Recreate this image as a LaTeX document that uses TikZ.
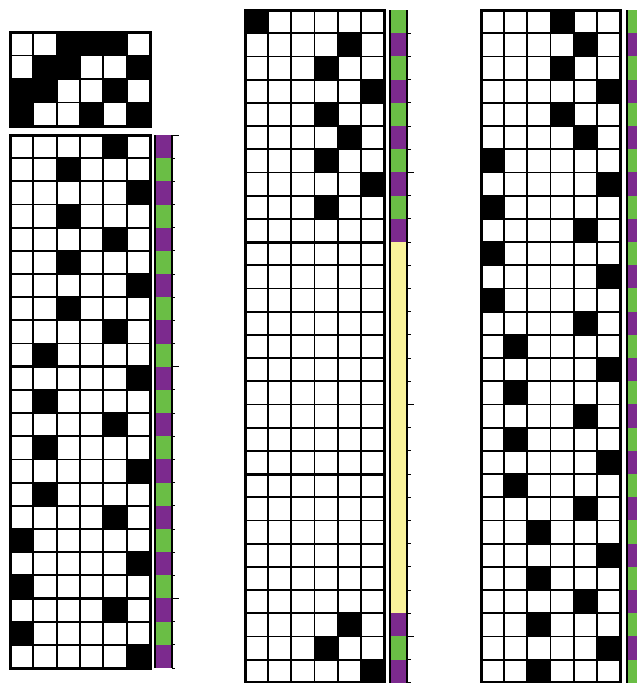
\documentclass[tikz,border=0pt]{standalone}
\definecolor{wpurple}{RGB}{124,42,142}
\definecolor{wgreen}{RGB}{106,190,69}
\definecolor{wyellow}{RGB}{249,242,155}
\tikzset{
  gridl/.style={line width=1.8pt,black},
  thickl/.style={line width=3pt,black},
  framel/.style={line width=3pt,black},
  barl/.style={line width=2pt,black},
  tickl/.style={line width=0.9pt,black}
}
% #1 x0, #2 y0, #3 cell width, #4 row height, #5 number of rows, #6 list of black columns (0 = none)
\newcommand\weavegrid[6]{%
  \foreach \c [count=\r] in {#6} {
    \ifnum\c>0 \fill[black] ({#1+(\c-1)*#3},{#2+(\r-1)*#4}) rectangle ++(#3,#4); \fi
  }
  \foreach \i in {1,...,5} \draw[gridl] ({#1+\i*#3},#2) -- ++(0,{#5*#4});
  \foreach \j in {1,...,\numexpr#5-1\relax} \draw[gridl] (#1,{#2+\j*#4}) -- ++({6*#3},0);
  \draw[framel] (#1,#2) rectangle ++({6*#3},{#5*#4});
}
% #1 x0, #2 y0, #3 width, #4 row height, #5 list of colours
\newcommand\colourbar[5]{%
  \foreach \col [count=\r] in {#5} {
    \fill[\col] (#1,{#2+(\r-1)*#4}) rectangle ++(#3,#4);
  }
}
\begin{document}
\begin{tikzpicture}[x=1pt,y=-1pt]
\useasboundingbox (0,0) rectangle (637,683);
\clip (0,0) rectangle (637,683);
\fill[white] (0,0) rectangle (637,683);

% ---------------- left panel ----------------
% tie-up
\foreach \cc/\rr in {3/1,4/1,5/1, 2/2,3/2,6/2, 1/3,2/3,5/3, 1/4,4/4,6/4}
  \fill[black] ({10+(\cc-1)*140/6},{32+(\rr-1)*23.5}) rectangle ++({140/6},23.5);
\foreach \i in {1,...,5} \draw[gridl] ({10+\i*140/6},32) -- ++(0,94);
\foreach \j in {1,2,3} \draw[gridl] (10,{32+\j*23.5}) -- ++(140,0);
\draw[framel] (10,32) rectangle (150,126);

% treadling
\weavegrid{10}{135}{140/6}{23.174}{23}{5,3,6,3,5,3,6,3,5,2,6,2,5,2,6,2,5,1,6,1,5,1,6}
\draw[thickl] (10,{135+10*23.174}) -- ++(140,0);
\draw[thickl] (10,{135+20*23.174}) -- ++(140,0);

% colour bar
\colourbar{155}{135}{17}{23.174}{wpurple,wgreen,wpurple,wgreen,wpurple,wgreen,wpurple,wgreen,wpurple,wgreen,wpurple,wgreen,wpurple,wgreen,wpurple,wgreen,wpurple,wgreen,wpurple,wgreen,wpurple,wgreen,wpurple}
\draw[barl] (155,135) -- (155,668) (172,135) -- (172,668);
\foreach \j in {0,...,23} {
  \pgfmathsetmacro\tl{(\j==0 || \j==10 || \j==20) ? 7 : 3}
  \draw[tickl] (172,{135+\j*23.174}) -- ++(\tl,0);
}

% ---------------- middle panel ----------------
\weavegrid{245}{10}{139/6}{23.2}{29}{1,5,4,6,4,5,4,6,4,0,0,0,0,0,0,0,0,0,0,0,0,0,0,0,0,0,5,4,6}
\draw[thickl] (245,{10+10*23.2}) -- ++(139,0);
\draw[thickl] (245,{10+20*23.2}) -- ++(139,0);

\colourbar{390}{10}{17}{23.2}{wgreen,wpurple,wgreen,wpurple,wgreen,wpurple,wgreen,wpurple,wgreen,wpurple,wyellow,wyellow,wyellow,wyellow,wyellow,wyellow,wyellow,wyellow,wyellow,wyellow,wyellow,wyellow,wyellow,wyellow,wyellow,wyellow,wpurple,wgreen,wpurple}
\draw[barl] (390,10) -- (390,683) (407,10) -- (407,683);
\foreach \j in {1,...,29} {
  \pgfmathsetmacro\tl{(\j==7 || \j==17 || \j==27) ? 7 : 3.5}
  \draw[tickl] (407,{10+\j*23.2}) -- ++(\tl,0);
}

% ---------------- right panel ----------------
\weavegrid{481}{10}{139/6}{23.2}{29}{4,5,4,6,4,5,1,6,1,5,1,6,1,5,2,6,2,5,2,6,2,5,3,6,3,5,3,6,3}

\colourbar{627}{10}{17}{23.2}{wgreen,wpurple,wgreen,wpurple,wgreen,wpurple,wgreen,wpurple,wgreen,wpurple,wgreen,wpurple,wgreen,wpurple,wgreen,wpurple,wgreen,wpurple,wgreen,wpurple,wgreen,wpurple,wgreen,wpurple,wgreen,wpurple,wgreen,wpurple,wgreen}
\draw[barl] (627,10) -- (627,683);
\end{tikzpicture}
\end{document}
